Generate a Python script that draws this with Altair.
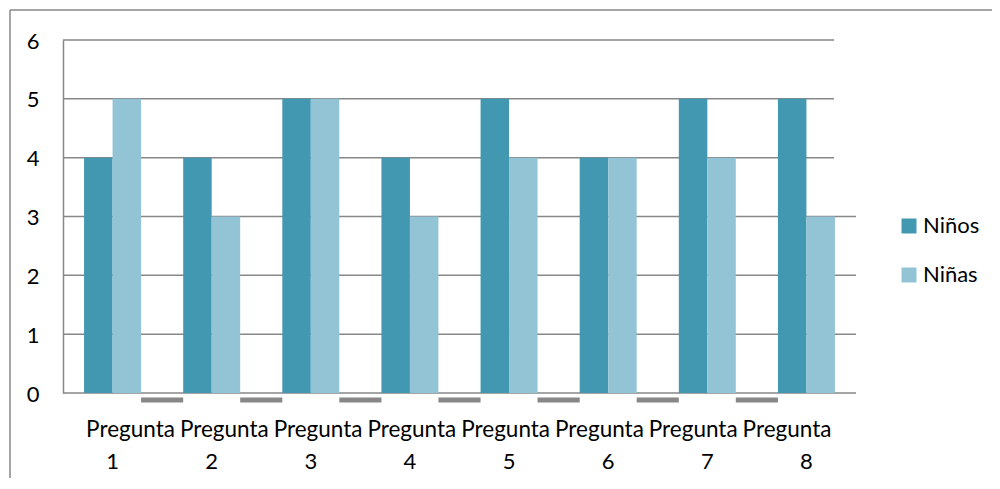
import altair as alt
import pandas as pd

categories = ["Pregunta 1", "Pregunta 2", "Pregunta 3", "Pregunta 4",
              "Pregunta 5", "Pregunta 6", "Pregunta 7", "Pregunta 8"]
series = ["Niños", "Niñas"]
ninos = [4, 4, 5, 4, 5, 4, 5, 5]
ninas = [5, 3, 5, 3, 4, 4, 4, 3]
gap_depth = [-0.12, -0.12, -0.12, -0.12, -0.12, -0.12, -0.12]
y_ticks = [0, 1, 2, 3, 4, 5, 6]

colors = ["#4298B0", "#93C4D5"]
GRAY = "#878787"
FONT = "Lato"

rows = []
for c, a, b in zip(categories, ninos, ninas):
    rows.append({"cat": c, "serie": series[0], "value": a})
    rows.append({"cat": c, "serie": series[1], "value": b})
bars_df = pd.DataFrame(rows)

gap_df = pd.DataFrame({
    "cat": categories[:-1],
    "next": categories[1:],
    "depth": gap_depth,
})

label_df = pd.DataFrame({
    "cat": categories,
    "line1": [c.split(" ")[0] for c in categories],
})

grid_df = pd.DataFrame({"v": y_ticks})
frame_df = pd.DataFrame({"k": [0]})

x_scale = alt.Scale(paddingInner=0.425, paddingOuter=0.2125)
y_scale = alt.Scale(domain=[0, 6], nice=False, padding=0, zero=False)
y_axis = alt.Axis(
    values=y_ticks, grid=False, ticks=False,
    domainColor=GRAY, domainWidth=1.5,
    labelFont=FONT, labelFontSize=22, labelColor="black",
    labelPadding=24, labelBaseline="alphabetic", labelOffset=8,
)

grid_lower = alt.Chart(grid_df).transform_filter("datum.v <= 3").mark_rule(
    color=GRAY, strokeWidth=1.5
).encode(
    y=alt.Y("v:Q", scale=y_scale, axis=y_axis, title=None),
    x=alt.value(0),
    x2=alt.value(793),
)

grid_upper = alt.Chart(grid_df).transform_filter("datum.v >= 4").mark_rule(
    color=GRAY, strokeWidth=1.5
).encode(
    y=alt.Y("v:Q", scale=y_scale, axis=y_axis, title=None),
    x=alt.value(0),
    x2=alt.value(771),
)

bars = alt.Chart(bars_df).mark_bar().encode(
    x=alt.X(
        "cat:N", sort=categories, scale=x_scale, title=None,
        axis=alt.Axis(
            labelExpr="split(datum.label, ' ')[1]",
            labelFont=FONT, labelFontSize=22, labelColor="black",
            labelBaseline="alphabetic", labelPadding=75, labelAngle=0,
            ticks=False, domain=False, labelOverlap=False,
        ),
    ),
    xOffset=alt.XOffset("serie:N", sort=series, scale=alt.Scale(paddingInner=0, paddingOuter=0)),
    y=alt.Y("value:Q", scale=y_scale, axis=y_axis, title=None),
    color=alt.Color(
        "serie:N", sort=series,
        scale=alt.Scale(domain=series, range=colors),
        legend=alt.Legend(
            orient="none", legendX=835, legendY=175, title=None,
            symbolType="square", symbolSize=225, symbolStrokeWidth=0,
            symbolOpacity=1, labelFont=FONT, labelFontSize=22,
            labelColor="black", labelOffset=3, rowPadding=27, padding=0,
        ),
    ),
)

gaps = alt.Chart(gap_df).mark_bar(color=GRAY).encode(
    x=alt.X("cat:N", sort=categories, scale=x_scale, bandPosition=1, axis=None),
    x2=alt.X2("next:N", bandPosition=0),
    y=alt.Y("depth:Q", scale=y_scale, axis=y_axis, title=None),
)

line1 = alt.Chart(label_df).mark_text(
    font=FONT, fontSize=22.5, baseline="alphabetic", align="center", color="black"
).encode(
    x=alt.X("cat:N", sort=categories,
            scale=alt.Scale(type="point", range=[67.5, 724], padding=0),
            axis=None),
    y=alt.value(397),
    text="line1:N",
)

frame_left = alt.Chart(frame_df).mark_rule(color=GRAY, strokeWidth=1.5).encode(
    x=alt.value(-53), y=alt.value(-30), y2=alt.value(480)
)
frame_top = alt.Chart(frame_df).mark_rule(color=GRAY, strokeWidth=1.5).encode(
    y=alt.value(-30), x=alt.value(-53), x2=alt.value(960)
)

chart = alt.layer(
    grid_lower, grid_upper, bars, gaps, line1, frame_left, frame_top
).resolve_scale(x="independent").properties(
    width=793, height=353,
    background="white",
    autosize=alt.AutoSizeParams(type="none"),
    padding={"left": 55, "top": 32, "right": 136, "bottom": 85},
).configure_view(strokeWidth=0, stroke="transparent")

chart.save("out.html", embed_options={"renderer": "svg", "actions": False})
